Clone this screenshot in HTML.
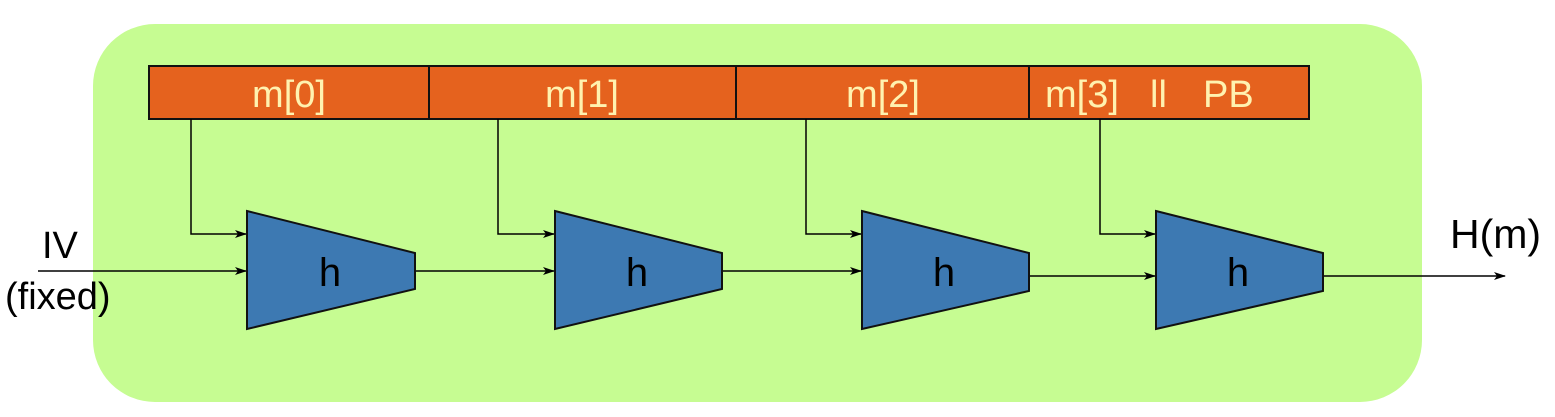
<!DOCTYPE html>
<html><head><meta charset="utf-8"><style>
html,body{margin:0;padding:0;background:#fff;width:1555px;height:417px;overflow:hidden}
svg{display:block}
text{font-family:"Liberation Sans","DejaVu Sans",sans-serif}
</style></head><body>
<svg width="1555" height="417" viewBox="0 0 1555 417">
<defs><marker id="ar" markerWidth="12" markerHeight="8" refX="11" refY="4" orient="auto" markerUnits="userSpaceOnUse"><path d="M0,0 L12,4 L0,8 L3,4 Z" fill="#000"/></marker></defs>
<rect x="93" y="24" width="1329" height="378" rx="62" fill="#c6fc92"/>
<g>
<rect x="149" y="66" width="1160" height="53" fill="#e5621e" stroke="#111" stroke-width="2"/>
<line x1="429" y1="66" x2="429" y2="119" stroke="#111" stroke-width="2"/>
<line x1="736" y1="66" x2="736" y2="119" stroke="#111" stroke-width="2"/>
<line x1="1029" y1="66" x2="1029" y2="119" stroke="#111" stroke-width="2"/>
<g fill="#fff2b0" font-size="38" text-anchor="middle">
<text x="289" y="107">m[0]</text>
<text x="582" y="107">m[1]</text>
<text x="883" y="107">m[2]</text>
<text x="1045" y="107" text-anchor="start">m[3]</text>
<text x="1150" y="107" text-anchor="start">ll</text>
<text x="1203" y="107" text-anchor="start">PB</text>
</g></g>
<g stroke="#000" stroke-width="1.5" fill="none">
<polyline points="191,119 191,234 246,234" marker-end="url(#ar)"/>
<polyline points="498,119 498,234 554,234" marker-end="url(#ar)"/>
<polyline points="806,119 806,234 861,234" marker-end="url(#ar)"/>
<polyline points="1100,119 1100,234 1155,234" marker-end="url(#ar)"/>
<line x1="38" y1="271" x2="246" y2="271" marker-end="url(#ar)"/>
<line x1="415" y1="271" x2="554" y2="271" marker-end="url(#ar)"/>
<line x1="722" y1="271" x2="861" y2="271" marker-end="url(#ar)"/>
<line x1="1029" y1="276" x2="1155" y2="276" marker-end="url(#ar)"/>
<line x1="1323" y1="276" x2="1505" y2="276" marker-end="url(#ar)"/>
</g>
<g fill="#3d79b2" stroke="#111" stroke-width="2">
<polygon points="247,211 415,253 415,289 247,329"/>
<polygon points="555,211 722,253 722,289 555,329"/>
<polygon points="862,211 1029,253 1029,291 862,329"/>
<polygon points="1156,211 1323,253 1323,291 1156,329"/>
</g>
<g font-size="40" fill="#000" text-anchor="middle">
<text x="330" y="286">h</text>
<text x="637" y="286">h</text>
<text x="944" y="286">h</text>
<text x="1238" y="286">h</text>
</g>
<g font-size="38" fill="#000">
<text x="42" y="258">IV</text>
<text x="5" y="309">(fixed)</text>
<text x="1450" y="248" font-size="41">H(m)</text>
</g>
</svg>
</body></html>
